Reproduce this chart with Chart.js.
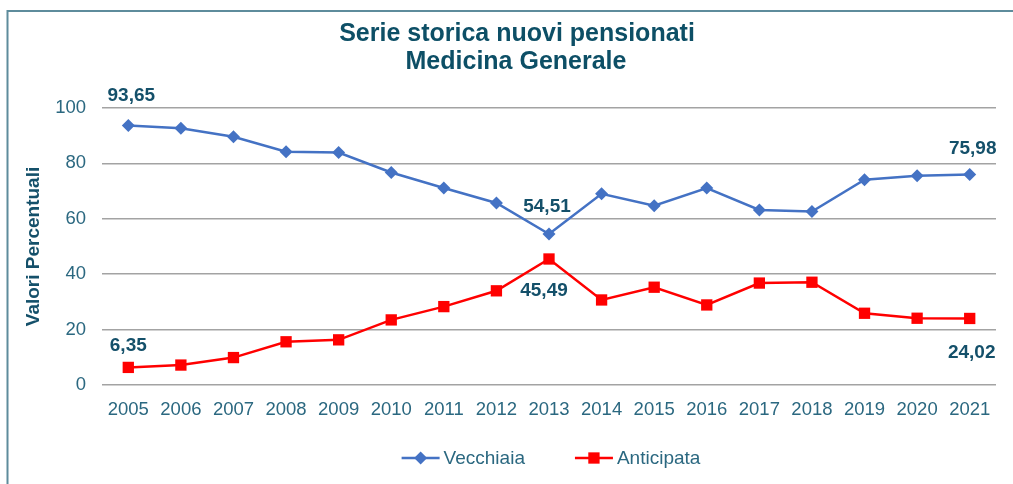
<!DOCTYPE html>
<html>
<head>
<meta charset="utf-8">
<script src="https://cdn.jsdelivr.net/npm/chart.js@4.4.1/dist/chart.umd.min.js"></script>
<style>
  html, body { margin: 0; padding: 0; background: #fff; }
  #wrap { position: relative; width: 1013px; height: 484px; }
</style>
</head>
<body>
<div id="wrap"><canvas id="chart" width="1013" height="484"></canvas></div>
<script>
// chart data
const years = ['2005', '2006', '2007', '2008', '2009', '2010', '2011', '2012', '2013',
               '2014', '2015', '2016', '2017', '2018', '2019', '2020', '2021'];
const vecchiaia = [93.65, 92.7, 89.6, 84.2, 83.9, 76.7, 71.1, 65.7, 54.51,
                   69.0, 64.7, 71.1, 63.2, 62.6, 74.1, 75.5, 75.98];
const anticipata = [6.35, 7.2, 9.9, 15.6, 16.3, 23.5, 28.3, 34.0, 45.49,
                    30.7, 35.3, 28.9, 36.8, 37.1, 25.9, 24.1, 24.02];
const seriesNames = ['Vecchiaia', 'Anticipata'];
const titleLines = ['Serie storica nuovi pensionati', 'Medicina Generale'];
const yTicks = [0, 20, 40, 60, 80, 100];

const FONT = '"Liberation Sans", Arial, sans-serif';
const BLUE = '#4472C4';
const RED = '#FF0000';
const TEAL = '#14506a';
const TICK = '#2b6880';

// which points get a value label, and where it sits relative to the point
const labelSpots = [
    { ds: 0, i: 0, dx: 3, dy: -30 },
    { ds: 1, i: 0, dx: 0, dy: -22 },
    { ds: 0, i: 8, dx: -2, dy: -27 },
    { ds: 1, i: 8, dx: -5, dy: 32 },
    { ds: 0, i: 16, dx: 3, dy: -26 },
    { ds: 1, i: 16, dx: 2, dy: 34 }
];

const decorPlugin = {
    id: 'decor',
    beforeDraw(chart) {
        const ctx = chart.ctx;
        ctx.save();
        // outer frame (top + left edge)
        ctx.strokeStyle = '#5e8c9c';
        ctx.lineWidth = 2;
        ctx.beginPath();
        ctx.moveTo(1013, 11);
        ctx.lineTo(7.5, 11);
        ctx.lineTo(7.5, 484);
        ctx.stroke();

        // title
        ctx.fillStyle = '#0d4f66';
        ctx.font = 'bold 25px ' + FONT;
        ctx.textAlign = 'center';
        ctx.textBaseline = 'middle';
        ctx.fillText(titleLines[0], 517, 34);
        ctx.fillText(titleLines[1], 516, 62);
        ctx.restore();
    },
    afterDatasetsDraw(chart) {
        const ctx = chart.ctx;
        ctx.save();
        ctx.fillStyle = TEAL;
        ctx.font = 'bold 19px ' + FONT;
        ctx.textAlign = 'center';
        ctx.textBaseline = 'middle';
        labelSpots.forEach(s => {
            const pt = chart.getDatasetMeta(s.ds).data[s.i];
            const v = chart.data.datasets[s.ds].data[s.i];
            ctx.fillText(v.toFixed(2).replace('.', ','), pt.x + s.dx, pt.y + s.dy);
        });

        // legend: line + marker + name
        const area = chart.chartArea;
        ctx.font = '19px ' + FONT;
        const lineLen = 38, gapText = 4, gapItem = 50;
        const widths = seriesNames.map(n => ctx.measureText(n).width);
        const total = widths.reduce((a, w) => a + lineLen + gapText + w, 0) + gapItem;
        let x = (area.left + area.right) / 2 + 2 - total / 2;
        const y = 458;
        chart.data.datasets.forEach((ds, k) => {
            ctx.strokeStyle = ds.borderColor;
            ctx.lineWidth = 2.5;
            ctx.beginPath();
            ctx.moveTo(x, y);
            ctx.lineTo(x + lineLen, y);
            ctx.stroke();
            ctx.fillStyle = ds.backgroundColor;
            Chart.helpers.drawPoint(ctx, {
                pointStyle: ds.pointStyle, radius: ds.pointRadius, borderWidth: 0
            }, x + lineLen / 2, y);
            ctx.fillStyle = TICK;
            ctx.textAlign = 'left';
            ctx.fillText(seriesNames[k], x + lineLen + gapText, y + 1);
            x += lineLen + gapText + widths[k] + gapItem;
        });
        ctx.restore();
    }
};

new Chart(document.getElementById('chart'), {
    type: 'line',
    data: {
        labels: years,
        datasets: [
            {
                label: seriesNames[0],
                data: vecchiaia,
                borderColor: BLUE,
                backgroundColor: BLUE,
                borderWidth: 2.5,
                pointStyle: 'rectRot',
                pointRadius: 6.5,
                pointBorderWidth: 0,
                tension: 0
            },
            {
                label: seriesNames[1],
                data: anticipata,
                borderColor: RED,
                backgroundColor: RED,
                borderWidth: 2.5,
                pointStyle: 'rect',
                pointRadius: 8,
                pointBorderWidth: 0,
                tension: 0
            }
        ]
    },
    options: {
        responsive: false,
        animation: false,
        events: [],
        layout: {
            autoPadding: false,
            padding: { top: 108, right: 17, bottom: 59, left: 0 }
        },
        plugins: {
            legend: { display: false },
            title: { display: false },
            tooltip: { enabled: false }
        },
        scales: {
            x: {
                offset: true,
                grid: { display: false, drawTicks: false },
                border: { display: false },
                ticks: {
                    color: TICK,
                    font: { family: FONT, size: 18.5 },
                    padding: 14,
                    maxRotation: 0,
                    autoSkip: false
                },
                afterFit: (scale) => { scale.height = 40; }
            },
            y: {
                min: 0,
                max: 100,
                afterBuildTicks: (scale) => { scale.ticks = yTicks.map(v => ({ value: v })); },
                grid: { color: '#a3a3a3', lineWidth: 1.5, drawTicks: false },
                border: { display: false },
                ticks: {
                    color: TICK,
                    font: { family: FONT, size: 18.5 },
                    padding: 16
                },
                title: {
                    display: true,
                    text: 'Valori Percentuali',
                    color: TEAL,
                    font: { family: FONT, size: 19, weight: 'bold' },
                    padding: { top: 22, bottom: 0 }
                },
                afterFit: (scale) => { scale.width = 102; }
            }
        }
    },
    plugins: [decorPlugin]
});
</script>
</body>
</html>
